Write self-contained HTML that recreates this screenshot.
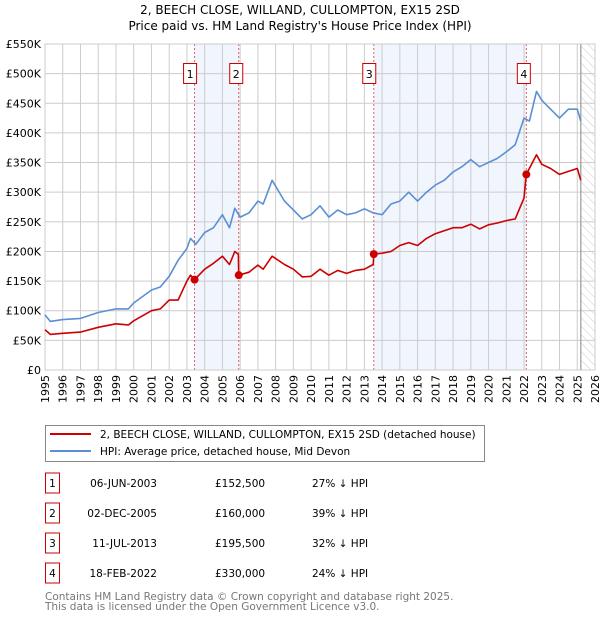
<!DOCTYPE html>
<html><head><meta charset="utf-8"><style>
body{margin:0;background:#fff;font-family:"DejaVu Sans","Liberation Sans",sans-serif;}
svg text{font-family:"DejaVu Sans","Liberation Sans",sans-serif;}
</style></head><body>
<svg width="600" height="620" viewBox="0 0 600 620">
<text x="300" y="14" text-anchor="middle" font-size="12">2, BEECH CLOSE, WILLAND, CULLOMPTON, EX15 2SD</text>
<text x="300" y="30" text-anchor="middle" font-size="12">Price paid vs. HM Land Registry's House Price Index (HPI)</text>
<g id="plot"></g>
<g>
<rect x="45.5" y="425.5" width="439" height="36" fill="#fff" stroke="#888"/>
<line x1="50" y1="434" x2="91" y2="434" stroke="#cc0000" stroke-width="2"/>
<text x="100" y="438" font-size="10.5">2, BEECH CLOSE, WILLAND, CULLOMPTON, EX15 2SD (detached house)</text>
<line x1="50" y1="451" x2="91" y2="451" stroke="#5b8fd4" stroke-width="2"/>
<text x="100" y="455" font-size="10.5">HPI: Average price, detached house, Mid Devon</text>
</g>
<g id="table" font-size="10.5"></g>
<text x="45" y="600" font-size="10.5" fill="#777">Contains HM Land Registry data © Crown copyright and database right 2025.</text>
<text x="45" y="610" font-size="10.5" fill="#777">This data is licensed under the Open Government Licence v3.0.</text>
</svg>
<script>
const hpiYears=[1995,1995.3,1996,1997,1998,1999,1999.7,2000,2001,2001.5,2002,2002.5,2003,2003.2,2003.5,2004,2004.5,2005,2005.4,2005.7,2006,2006.5,2007,2007.3,2007.8,2008.5,2009,2009.5,2010,2010.5,2011,2011.5,2012,2012.5,2013,2013.5,2014,2014.5,2015,2015.5,2016,2016.5,2017,2017.5,2018,2018.5,2019,2019.5,2020,2020.5,2021,2021.5,2022,2022.3,2022.7,2023,2023.5,2024,2024.5,2025,2025.2];
const hpiValues=[93,82,85,87,97,103,103,113,135,140,158,185,205,222,212,232,240,262,240,273,258,265,285,280,320,285,270,255,262,277,258,270,262,265,272,265,262,280,285,300,285,300,312,320,334,343,355,343,350,357,368,380,425,420,470,455,440,425,440,440,420];
const propYears=[1995,1995.3,1996,1997,1998,1999,1999.7,2000,2001,2001.5,2002,2002.5,2003,2003.2,2003.43,2004,2004.5,2005,2005.4,2005.7,2005.9,2005.92,2006.5,2007,2007.3,2007.8,2008.5,2009,2009.5,2010,2010.5,2011,2011.5,2012,2012.5,2013,2013.5,2013.53,2014,2014.5,2015,2015.5,2016,2016.5,2017,2017.5,2018,2018.5,2019,2019.5,2020,2020.5,2021,2021.5,2022,2022.13,2022.7,2023,2023.5,2024,2024.5,2025,2025.2];
const propValues=[68,60,62,64,72,78,76,83,100,103,118,118,150,160,152.5,170,180,192,178,200,195,160,165,177,170,192,178,170,157,158,170,160,168,163,168,170,178,195.5,197,200,210,215,210,222,230,235,240,240,246,238,245,248,252,255,290,330,363,347,340,330,335,340,320];
const saleNums=["1","2","3","4"];
const saleYears=[2003.43,2005.92,2013.53,2022.13];
const saleValues=[152.5,160,195.5,330];
const saleDates=["06-JUN-2003","02-DEC-2005","11-JUL-2013","18-FEB-2022"];
const salePrices=["£152,500","£160,000","£195,500","£330,000"];
const saleDiffs=["27% ↓ HPI","39% ↓ HPI","32% ↓ HPI","24% ↓ HPI"];
const yTicks=[0,50,100,150,200,250,300,350,400,450,500,550];
const yTickLabels=["£0","£50K","£100K","£150K","£200K","£250K","£300K","£350K","£400K","£450K","£500K","£550K"];
const xTicks=[1995,1996,1997,1998,1999,2000,2001,2002,2003,2004,2005,2006,2007,2008,2009,2010,2011,2012,2013,2014,2015,2016,2017,2018,2019,2020,2021,2022,2023,2024,2025,2026];
const dataEnd=2025.2;

const X0=45,X1=595,Y0=370,Y1=44;
const xs=y=>X0+(y-1995)/31*(X1-X0);
const ys=v=>Y0-v/550*(Y0-Y1);
const NS="http://www.w3.org/2000/svg";
function mk(tag,attrs,parent){const e=document.createElementNS(NS,tag);for(const k in attrs)e.setAttribute(k,attrs[k]);parent.appendChild(e);return e;}
const g=document.getElementById('plot');
// shading
for(let i=0;i<saleYears.length;i+=2){
 const r=mk('rect',{x:xs(saleYears[i]),y:Y1,width:xs(saleYears[i+1])-xs(saleYears[i]),height:Y0-Y1,fill:'#eef3fc',opacity:0.8},g);
 
 
}
// hatch
const defs=mk('defs',{},g);
const pat=mk('pattern',{id:'hatch',width:6,height:6,patternUnits:'userSpaceOnUse',patternTransform:'rotate(-45)'},defs);
mk('line',{x1:0,y1:0,x2:0,y2:6,stroke:'#ccc','stroke-width':1},pat);
const hr=mk('rect',{x:xs(dataEnd),y:Y1,width:X1-xs(dataEnd),height:Y0-Y1,fill:'url(#hatch)'},g);


// grid
xTicks.forEach(t=>{
 const l=mk('line',{x1:xs(t),x2:xs(t),y1:Y1,y2:Y0,stroke:'#ccc','stroke-width':1},g);
 
 
 const tx=mk('text',{x:0,y:0,'font-size':11,'text-anchor':'end',transform:`translate(${xs(t)+4},${Y0+5}) rotate(-90)`},g);
 tx.textContent=t;
 
 
});
yTicks.forEach((t,i)=>{
 const l=mk('line',{x1:X0,x2:X1,y1:ys(t),y2:ys(t),stroke:'#ccc','stroke-width':1},g);
 
 
 const tx=mk('text',{x:X0-4,y:ys(t)+4,'font-size':11,'text-anchor':'end'},g);
 tx.textContent=yTickLabels[i];
 
 
});
const el=mk('line',{x1:xs(dataEnd),x2:xs(dataEnd),y1:Y1,y2:Y0,stroke:'#999','stroke-width':1.2},g);


// vlines + boxes
saleYears.forEach((y,i)=>{
 const l=mk('line',{x1:xs(y),x2:xs(y),y1:Y1,y2:Y0,stroke:'#e06060','stroke-width':1,'stroke-dasharray':'2,2'},g);
 
 
 const bx=xs(y)-(i%2==0?10:3);
 const b=mk('rect',{x:xs(y)-(i==0?10:i==1?8:i==2?10:8)-1,y:63.5,width:13,height:20,fill:'#fff',stroke:'#cc0000'},g);
 
 
 const t=mk('text',{x:xs(y)-(i==0?10:i==1?8:i==2?10:8)+5.5,y:78,'font-size':11,'text-anchor':'middle'},g);
 t.textContent=saleNums[i];
 
 
});
mk('rect',{x:X0,y:Y1,width:X1-X0,height:Y0-Y1,fill:'none',stroke:'#ccc'},g);
function line(xsArr,vs,color,name){
 const p=mk('polyline',{points:xsArr.map((y,i)=>xs(y).toFixed(1)+','+ys(vs[i]).toFixed(1)).join(' '),fill:'none',stroke:color,'stroke-width':1.6,'stroke-linejoin':'round'},g);
 
 
}
line(hpiYears,hpiValues,'#5b8fd4','hpi-line');
line(propYears,propValues,'#cc0000','property-line');
saleYears.forEach((y,i)=>{
 const c=mk('circle',{cx:xs(y),cy:ys(saleValues[i]),r:4,fill:'#cc0000'},g);
 
 
});
// table
const tb=document.getElementById('table');
const rowY=[483,513,543,573];
saleNums.forEach((n,i)=>{
 const y=rowY[i];
 const b=mk('rect',{x:45.5,y:y-10,width:14,height:20,fill:'#fff',stroke:'#cc0000'},tb);
 
 
 const cells=[[n,52.5,'middle'],[saleDates[i],157,'end'],[salePrices[i],215,'start'],[saleDiffs[i],312,'start']];
 cells.forEach(c=>{
  const t=mk('text',{x:c[1],y:y+4,'text-anchor':c[2]},tb);
  t.textContent=c[0];
  
  
 });
});
</script>
</body></html>
